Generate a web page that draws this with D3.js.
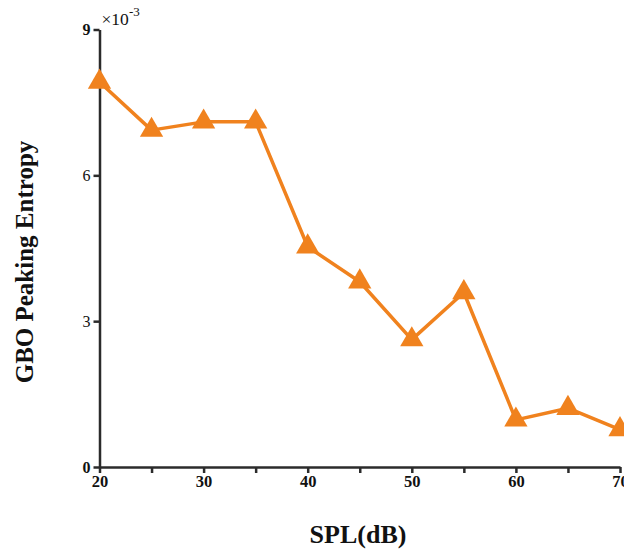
<!DOCTYPE html>
<html>
<head>
<meta charset="utf-8">
<script src="https://cdn.jsdelivr.net/npm/d3@7"></script>
<style>
html,body{margin:0;padding:0;background:#fff;overflow:hidden;}
svg{display:block;font-family:"Liberation Serif","Times New Roman",serif;}
</style>
</head>
<body>
<svg id="chart" width="624" height="550"></svg>
<script>
const spl = [20, 25, 30, 35, 40, 45, 50, 55, 60, 65, 70];
const entropy = [7.92, 6.93, 7.10, 7.10, 4.53, 3.81, 2.62, 3.59, 0.97, 1.21, 0.77]; // ×10^-3
const xTicks = [20, 30, 40, 50, 60, 70];
const xMinorTicks = [25, 35, 45, 55, 65];
const yTicks = [0, 3, 6, 9];
const yBoldTicks = [0, 9];

const svg = d3.select("#chart");
const x = d3.scaleLinear().domain([20, 70]).range([99.5, 620]);
const y = d3.scaleLinear().domain([0, 9]).range([467, 29.5]);
const orange = "#F0821E";
const axisColor = "#2b2b2b";

// x axis
const gx = svg.append("g").attr("transform", `translate(0,${y(0)})`)
  .call(d3.axisBottom(x).tickValues(d3.merge([xTicks, xMinorTicks]).sort(d3.ascending))
    .tickSize(6).tickSizeOuter(0).tickFormat(d => xTicks.includes(d) ? d : ""));
gx.select(".domain").attr("stroke", axisColor).attr("stroke-width", 2.5);
gx.selectAll(".tick line").attr("stroke", axisColor).attr("stroke-width", 2.5);
gx.selectAll(".tick text").attr("fill", "#111").attr("font-size", 16.5).attr("font-weight", "bold")
  .attr("font-family", "Liberation Serif, serif").attr("y", 8).attr("dy", "0.71em");

// y axis
const gy = svg.append("g").attr("transform", `translate(${x(20)},0)`)
  .call(d3.axisLeft(y).tickValues(yTicks).tickSize(6).tickSizeOuter(0));
gy.select(".domain").attr("stroke", axisColor).attr("stroke-width", 2.5);
gy.selectAll(".tick line").attr("stroke", axisColor).attr("stroke-width", 2.5);
gy.selectAll(".tick text").attr("fill", "#111").attr("font-size", 16)
  .attr("font-weight", d => yBoldTicks.includes(d) ? "bold" : "normal")
  .attr("font-family", "Liberation Serif, serif").attr("x", -9);

// exponent label
const ex = svg.append("text").attr("x", x(20) + 2).attr("y", 25)
  .attr("font-size", 17.5).attr("fill", "#111").attr("font-family", "Liberation Serif, serif");
ex.append("tspan").text("×10");
ex.append("tspan").attr("dy", -9).attr("font-size", 13).text("-3");

// line
const line = d3.line().x((d, i) => x(spl[i])).y(d => y(d));
svg.append("path").datum(entropy).attr("d", line)
  .attr("fill", "none").attr("stroke", orange).attr("stroke-width", 3.5).attr("stroke-linejoin", "round");

// markers
svg.append("g").selectAll("path").data(entropy).join("path")
  .attr("transform", (d, i) => `translate(${x(spl[i])},${y(d)})`)
  .attr("d", d3.symbol(d3.symbolTriangle, 235))
  .attr("fill", orange);

// axis titles
svg.append("text").attr("x", 358).attr("y", 543).attr("text-anchor", "middle")
  .attr("font-size", 26).attr("font-weight", "bold").attr("fill", "#111")
  .text("SPL(dB)");
svg.append("text").attr("transform", `translate(33,262) rotate(-90)`).attr("text-anchor", "middle")
  .attr("font-size", 25).attr("font-weight", "bold").attr("fill", "#111")
  .text("GBO Peaking Entropy");
</script>
</body>
</html>
